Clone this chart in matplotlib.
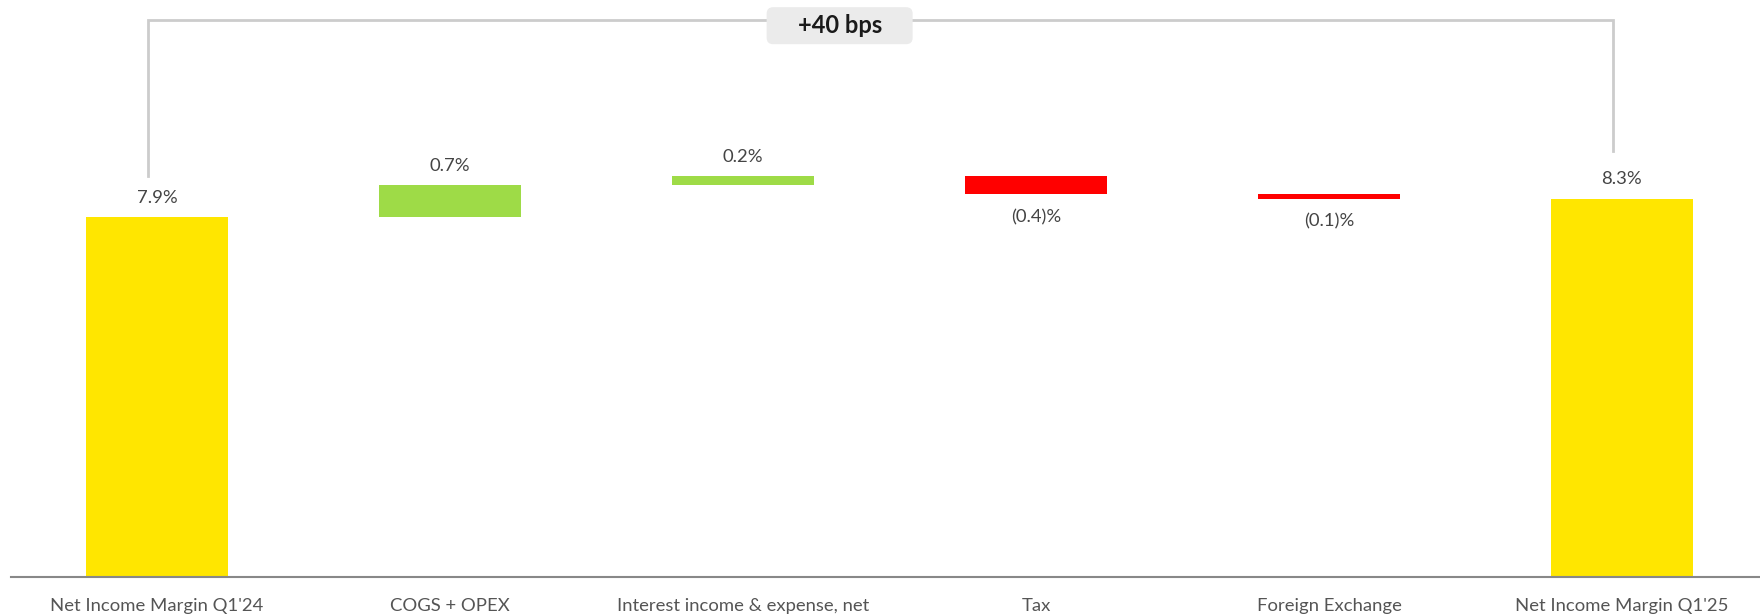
import numpy as np
import matplotlib.pyplot as plt
from matplotlib.patches import FancyBboxPatch

plt.rcParams['font.family'] = ['Lato', 'DejaVu Sans']

# Data
categories = ['Net Income Margin Q1\'24', 'COGS + OPEX', 'Interest income & expense, net',
              'Tax', 'Foreign Exchange', 'Net Income Margin Q1\'25']
start_value = 7.9
changes = [0.7, 0.2, -0.4, -0.1]
end_value = 8.3
change_label = '+40 bps'

yellow = '#FFE600'
green = '#9EDB47'
red = '#FF0000'

# waterfall bottoms / heights
bottoms = [0]
heights = [start_value]
level = start_value
colors = [yellow]
for c in changes:
    bottoms.append(level if c >= 0 else level + c)
    heights.append(abs(c))
    colors.append(green if c >= 0 else red)
    level += c
bottoms.append(0)
heights.append(end_value)
colors.append(yellow)

x_pos = np.arange(len(categories))
width = 0.485

fig = plt.figure(figsize=(17.6, 6.15), dpi=100)
ax = fig.add_axes([11 / 1760, 38 / 615, 1 - 11 / 1760, 577 / 615])
ax.bar(x_pos, heights, width, bottom=bottoms, color=colors)

# value labels
vals = [start_value] + changes + [end_value]
for i, v in enumerate(vals):
    top = bottoms[i] + heights[i]
    if v >= 0:
        ax.annotate(f'{v:.1f}%', (x_pos[i], top), xytext=(0, 8), textcoords='offset points',
                    ha='center', va='bottom', fontsize=13.3, color='#444444')
    else:
        ax.annotate(f'({abs(v):.1f})%', (x_pos[i], bottoms[i]), xytext=(0, -11),
                    textcoords='offset points', ha='center', va='top',
                    fontsize=13.3, color='#444444')

# bracket showing total change
y_top = 12.21
xl = x_pos[0] - 0.03
xr = x_pos[-1] - 0.03
ax.plot([xl, xl, xr, xr], [start_value + 0.89, y_top, y_top, end_value + 1.05],
        color='#cccccc', lw=2, solid_joinstyle='miter', zorder=1)

# label box (146 x 37 px)
bx, by = 2.33, 12.09
bw, bh = 146 / 293, 37 / 45.6
box = FancyBboxPatch((bx - bw / 2, by - bh / 2), bw, bh,
                     boxstyle='round,pad=0,rounding_size=0.022',
                     mutation_aspect=293 / 45.6, fc='#ebebeb', ec='none',
                     zorder=2, clip_on=False)
ax.add_patch(box)
ax.text(bx, by, change_label, ha='center', va='center', fontsize=17,
        fontweight='bold', color='#1a1a1a', zorder=3)

ax.set_xlim(-0.498, 5.471)
ax.set_ylim(0, 577 / 45.6)
ax.set_xticks(x_pos)
ax.set_xticklabels(categories, fontsize=13.3, color='#555555')
ax.tick_params(axis='x', length=0, pad=15)
ax.set_yticks([])
for s in ['top', 'right', 'left']:
    ax.spines[s].set_visible(False)
ax.spines['bottom'].set_color('#888888')
ax.spines['bottom'].set_linewidth(1.5)

plt.savefig('out.png', dpi=100)
